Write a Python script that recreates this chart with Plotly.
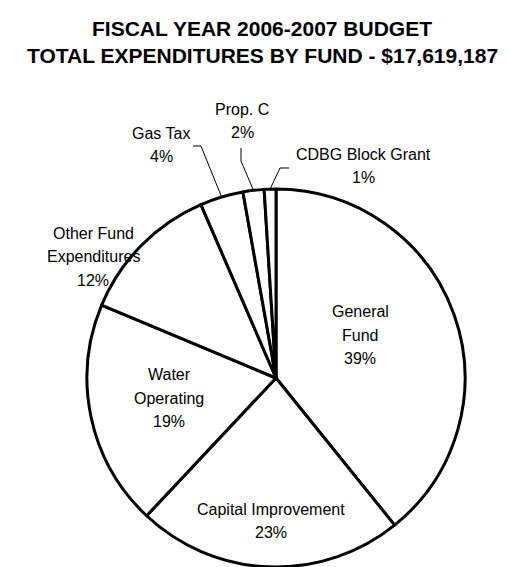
import math
import plotly.graph_objects as go

# ---------------- data ----------------
categories = ["General Fund", "Capital Improvement", "Water Operating",
              "Other Fund Expenditures", "Gas Tax", "Prop. C", "CDBG Block Grant"]
label_lines = [["General", "Fund"], ["Capital Improvement"], ["Water", "Operating"],
               ["Other Fund", "Expenditures"], ["Gas Tax"], ["Prop. C"], ["CDBG Block Grant"]]
shares = [39.2, 22.8, 19.3, 12.2, 3.7, 1.8, 1.0]
title_lines = ["FISCAL YEAR 2006-2007 BUDGET", "TOTAL EXPENDITURES BY FUND - $17,619,187"]

# ---------------- layout / style ----------------
W, H = 508, 567
CX, CY, R = 268, 370, 189          # pie centre and radius (px)
FONT = "Liberation Sans"
LS = 23.5                          # label line spacing (px)

# label block centres (px)
label_pos = [(352, 327), (263, 513), (161, 390), (85, 249), (153, 137), (234, 113), (355, 158)]
# leader lines: (end near label, elbow) in px, None for no leader
leaders = [None, None, None, None,
           ((185, 138), (193, 138)),
           ((233, 140), (233, 153)),
           ((281, 160), (272, 160))]


def px(x, y):
    return x / W, 1 - y / H


fig = go.Figure()
fig.add_trace(go.Pie(
    values=shares, labels=categories, sort=False, direction="clockwise", rotation=0,
    textinfo="none", showlegend=False, hoverinfo="label+percent",
    marker=dict(colors=["white"] * len(shares), line=dict(color="black", width=3)),
    domain=dict(x=[(CX - R) / W, (CX + R) / W], y=[1 - (CY + R) / H, 1 - (CY - R) / H]),
))

annotations = []
for k, t in enumerate(title_lines):
    annotations.append(dict(text=f"<b>{t}</b>", x=0.5, y=1 - (21 + 26 * k) / H,
                            xref="paper", yref="paper", showarrow=False,
                            xanchor="center", yanchor="middle",
                            font=dict(family=FONT, size=21, color="black")))

total = sum(shares)
shapes = []
cum = 0.0
for i, v in enumerate(shares):
    lines = label_lines[i] + [f"{round(v / total * 100)}%"]
    lx, ly = label_pos[i]
    n = len(lines)
    for k, line in enumerate(lines):
        yy = ly + (k - (n - 1) / 2) * LS
        x0, y0 = px(lx, yy)
        annotations.append(dict(text=line, x=x0, y=y0, xref="paper", yref="paper",
                                showarrow=False, xanchor="center", yanchor="middle",
                                font=dict(family=FONT, size=16, color="black")))
    theta = 2 * math.pi * (cum + v / 2) / total
    if leaders[i] is not None:
        (ex, ey), (bx, by) = leaders[i]
        sx, sy = CX + R * math.sin(theta), CY - R * math.cos(theta)
        p = [px(ex, ey), px(bx, by), px(sx, sy)]
        path = "M {} {} L {} {} L {} {}".format(p[0][0], p[0][1], p[1][0], p[1][1], p[2][0], p[2][1])
        shapes.append(dict(type="path", path=path, xref="paper", yref="paper",
                           line=dict(color="black", width=1)))
    cum += v

fig.update_layout(
    width=W, height=H, margin=dict(l=0, r=0, t=0, b=0),
    paper_bgcolor="white", plot_bgcolor="white",
    font=dict(family=FONT, color="black"),
    annotations=annotations, shapes=shapes,
)
fig.write_html("out.html")
